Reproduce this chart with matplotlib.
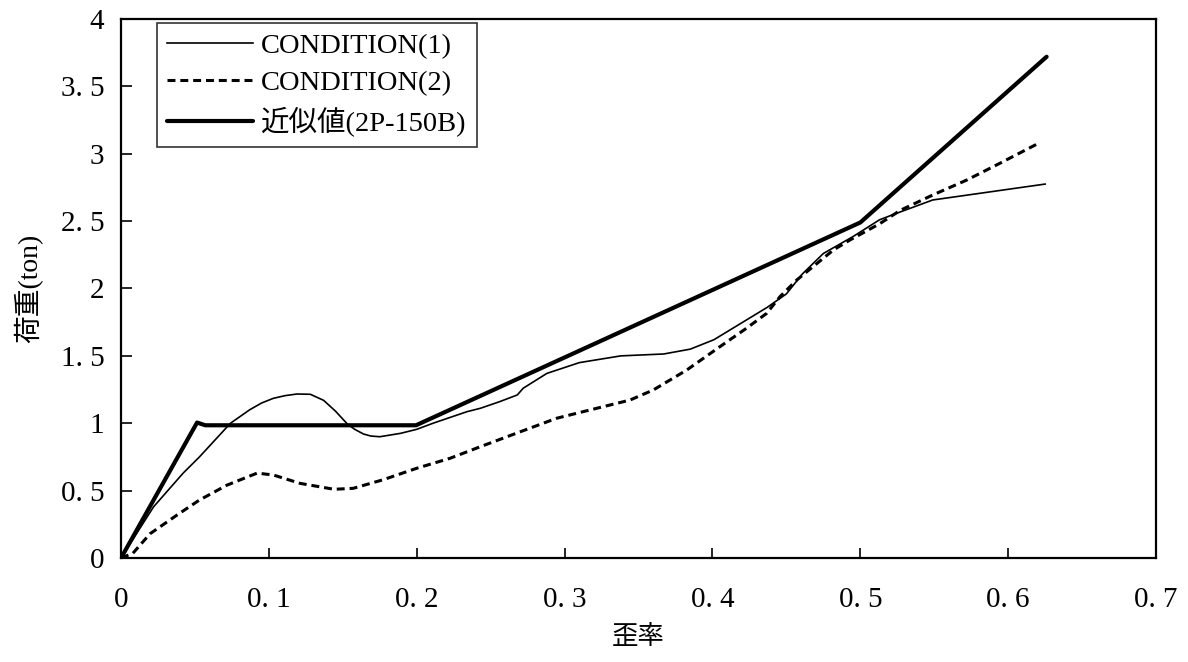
import matplotlib
matplotlib.use("Agg")
import matplotlib.pyplot as plt

plt.rcParams['font.family'] = ['Liberation Serif', 'Noto Sans CJK JP', 'DejaVu Sans']

# CONDITION(1) - thin solid
c1_x = [0, 0.022, 0.042, 0.053, 0.074, 0.087, 0.095, 0.103, 0.111, 0.119, 0.128,
        0.137, 0.145, 0.153, 0.158, 0.164, 0.169, 0.175, 0.189, 0.200, 0.211, 0.234,
        0.243, 0.256, 0.268, 0.272, 0.288, 0.310, 0.338, 0.367, 0.385, 0.401, 0.419,
        0.437, 0.450, 0.461, 0.475, 0.495, 0.513, 0.525, 0.549, 0.625]
c1_y = [0, 0.38, 0.63, 0.75, 1.0, 1.10, 1.15, 1.185, 1.205, 1.217, 1.215,
        1.17, 1.09, 0.995, 0.955, 0.92, 0.905, 0.90, 0.925, 0.955, 1.0, 1.086,
        1.111, 1.16, 1.21, 1.26, 1.37, 1.45, 1.50, 1.514, 1.55, 1.62, 1.74,
        1.86, 1.96, 2.11, 2.26, 2.385, 2.51, 2.56, 2.657, 2.775]

# CONDITION(2) - dashed
c2_x = [0, 0.008, 0.0196, 0.038, 0.053, 0.0715, 0.092, 0.103, 0.121, 0.144, 0.157,
        0.177, 0.200, 0.2225, 0.243, 0.272, 0.2946, 0.3217, 0.3442, 0.360, 0.3826,
        0.405, 0.423, 0.4367, 0.4457, 0.457, 0.468, 0.4818, 0.493, 0.513, 0.527,
        0.549, 0.572, 0.5945, 0.6204]
c2_y = [0, 0.035, 0.18, 0.32, 0.43, 0.54, 0.63, 0.616, 0.554, 0.51, 0.517,
        0.58, 0.666, 0.74, 0.826, 0.945, 1.037, 1.111, 1.172, 1.247, 1.395,
        1.568, 1.705, 1.816, 1.94, 2.063, 2.162, 2.286, 2.36, 2.48, 2.58,
        2.694, 2.805, 2.93, 3.077]

# 近似値(2P-150B) - thick solid
ap_x = [0, 0.0514, 0.057, 0.1995, 0.500, 0.626]
ap_y = [0, 1.005, 0.985, 0.985, 2.49, 3.72]

labels = ['CONDITION(1)', 'CONDITION(2)', '近似値(2P-150B)']
x_ticks = [0, 0.1, 0.2, 0.3, 0.4, 0.5, 0.6, 0.7]
x_ticklabels = ['0', '0. 1', '0. 2', '0. 3', '0. 4', '0. 5', '0. 6', '0. 7']
y_ticks = [0, 0.5, 1, 1.5, 2, 2.5, 3, 3.5, 4]
y_ticklabels = ['0', '0. 5', '1', '1. 5', '2', '2. 5', '3', '3. 5', '4']

fig = plt.figure(figsize=(11.88, 6.62), dpi=100)
ax = fig.add_axes([0.1019, 0.1571, 0.8712, 0.8142])

ax.plot(c1_x, c1_y, color='black', lw=1.2, label=labels[0])
ax.plot(c2_x, c2_y, color='black', lw=2.2, dashes=(2.6, 1.6), label=labels[1])
ax.plot(ap_x, ap_y, color='black', lw=3.0, solid_capstyle='round', label=labels[2])

ax.set_xlim(0, 0.7)
ax.set_ylim(0, 4)
ax.set_xticks(x_ticks)
ax.set_xticklabels(x_ticklabels)
ax.set_yticks(y_ticks)
ax.set_yticklabels(y_ticklabels)
ax.tick_params(axis='x', direction='in', length=7, width=1.2, pad=21, labelsize=21)
ax.tick_params(axis='y', direction='in', length=8, width=1.2, pad=12, labelsize=21)
for sp in ax.spines.values():
    sp.set_linewidth(1.6)

ax.set_xlabel('歪率', fontsize=19)
ax.xaxis.set_label_coords(0.5, -0.125)
ax.set_ylabel('荷重(ton)', fontsize=20)
ax.yaxis.set_label_coords(-0.075, 0.5)

leg = ax.legend(loc='upper left', bbox_to_anchor=(0.035, 0.993), borderaxespad=0,
                fontsize=20.5, frameon=True, fancybox=False, handlelength=3.0,
                handletextpad=0.3, labelspacing=0.4, borderpad=0.35)
leg.get_frame().set_edgecolor('black')
leg.get_frame().set_linewidth(1.2)

fig.savefig('out.png', dpi=100)
